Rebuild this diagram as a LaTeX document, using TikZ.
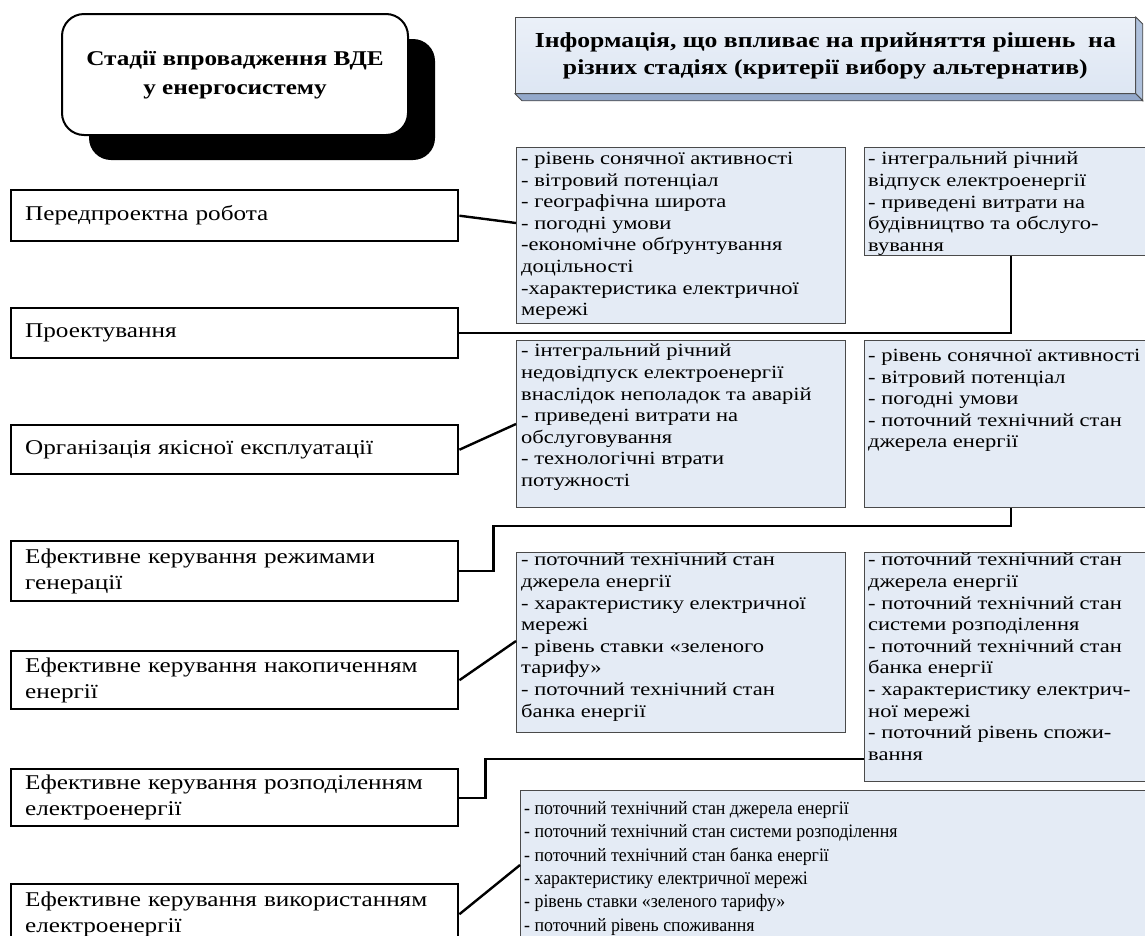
\documentclass[tikz,border=0pt]{standalone}
\usepackage{fontspec}
\setmainfont{Liberation Serif}[FakeStretch=1.2]
\newfontfamily\bluefont{Liberation Serif}[FakeStretch=1.21]
\newfontfamily\condserif{Liberation Serif}[FakeStretch=0.94]
\usetikzlibrary{calc,shadows}
\definecolor{boxfill}{HTML}{E4EBF5}
\definecolor{boxline}{HTML}{4A4A4A}
\definecolor{infofront}{HTML}{DDE6F3}
\definecolor{infoside}{HTML}{AFC1DC}
\definecolor{infobottom}{HTML}{93A8CB}
\begin{document}
\begin{tikzpicture}[x=1pt,y=-1pt,
  stagebox/.style={draw=black, line width=2.4pt, fill=white, anchor=north west,
    inner xsep=14pt, inner ysep=0pt, text width=419pt, align=left,
    font=\fontsize{21}{26}\selectfont},
  bluebox/.style={draw=boxline, line width=0.8pt, fill=boxfill, anchor=north west, inner sep=0pt},
  btext/.style={anchor=north west, inner sep=0pt, align=left, font=\bluefont\fontsize{18.6}{21.6}\selectfont},
  gtext/.style={anchor=north west, inner sep=0pt, align=left, font=\condserif\fontsize{19}{23.4}\selectfont},
  conn/.style={draw=black, line width=2.4pt, line join=miter},
  titlebox/.style={draw=black, line width=2pt, fill=white, rounded corners=22pt,
    minimum width=346pt, minimum height=121pt, align=center,
    font=\bfseries\fontsize{21}{29}\selectfont,
    drop shadow={shadow xshift=27pt, shadow yshift=-25pt, fill=black, opacity=1}},
  infobox/.style={draw=boxline, line width=0.8pt, top color=infofront!60!white, bottom color=infofront,
    anchor=north west, minimum width=620pt, minimum height=76pt, align=center,
    font=\bfseries\fontsize{21.4}{27}\selectfont}
]
\useasboundingbox (0,0) rectangle (1145,935);
\clip (0,0) rectangle (1145,935);

% headers
\node[titlebox] (stages) at (235,74.5) {Стадії впровадження ВДЕ\\у енергосистему};

\node[infobox] (info) at (515,17) {Інформація, що впливає на прийняття рішень~ на\\різних стадіях (критерії вибору альтернатив)};
\filldraw[fill=infoside, draw=boxline, line width=0.8pt] (info.north east) -- ++(7,7) -- ($(info.south east)+(7,7)$) -- (info.south east) -- cycle;
\filldraw[fill=infobottom, draw=boxline, line width=0.8pt] (info.south west) -- ($(info.south west)+(7,7)$) -- ($(info.south east)+(7,7)$) -- (info.south east) -- cycle;

% stage boxes
\node[stagebox, minimum height=51pt] (s1) at (10,189) {Передпроектна робота};
\node[stagebox, minimum height=50pt] (s2) at (10,307) {Проектування};
\node[stagebox, minimum height=49pt] (s3) at (10,424) {Організація якісної експлуатації};
\node[stagebox, minimum height=60pt] (s4) at (10,540) {Ефективне керування режимами\\генерації};
\node[stagebox, minimum height=58pt] (s5) at (10,650) {Ефективне керування накопиченням\\енергії};
\node[stagebox, minimum height=57pt] (s6) at (10,768) {Ефективне керування розподіленням\\електроенергії};
\node[stagebox, minimum height=60pt] (s7) at (10,883) {Ефективне керування використанням\\електроенергії};

% information boxes
\node[bluebox, minimum width=329pt, minimum height=176pt] (A) at (516,147) {};
\node[btext] (At) at ($(A.north west)+(5,5)$) {- рівень сонячної активності\\- вітровий потенціал\\- географічна широта\\- погодні умови\\-економічне обґрунтування\\доцільності\\-характеристика електричної\\мережі};

\node[bluebox, minimum width=282pt, minimum height=108pt] (B) at (864,147) {};
\node[btext] (Bt) at ($(B.north west)+(4,5)$) {- інтегральний річний\\відпуск електроенергії\\- приведені витрати на\\будівництво та обслуго-\\вування};

\node[bluebox, minimum width=329pt, minimum height=167pt] (C) at (516,340) {};
\node[btext] (Ct) at ($(C.north west)+(5,4)$) {- інтегральний річний\\недовідпуск електроенергії\\внаслідок неполадок та аварій\\- приведені витрати на\\обслуговування\\- технологічні втрати\\потужності};

\node[bluebox, minimum width=282pt, minimum height=167pt] (D) at (864,340) {};
\node[btext] (Dt) at ($(D.north west)+(4,9)$) {- рівень сонячної активності\\- вітровий потенціал\\- погодні умови\\- поточний технічний стан\\джерела енергії};

\node[bluebox, minimum width=329pt, minimum height=180pt] (E) at (516,552) {};
\node[btext] (Et) at ($(E.north west)+(5,1)$) {- поточний технічний стан\\джерела енергії\\- характеристику електричної\\мережі\\- рівень ставки «зеленого\\тарифу»\\- поточний технічний стан\\банка енергії};

\node[bluebox, minimum width=282pt, minimum height=229pt] (F) at (864,552) {};
\node[btext] (Ft) at ($(F.north west)+(4,1)$) {- поточний технічний стан\\джерела енергії\\- поточний технічний стан\\системи розподілення\\- поточний технічний стан\\банка енергії\\- характеристику електрич-\\ної мережі\\- поточний рівень спожи-\\вання};

\node[bluebox, minimum width=626pt, minimum height=170pt] (G) at (520,790) {};
\node[gtext] (Gt) at ($(G.north west)+(4,11)$) {- поточний технічний стан джерела енергії\\- поточний технічний стан системи розподілення\\- поточний технічний стан банка енергії\\- характеристику електричної мережі\\- рівень ставки «зеленого тарифу»\\- поточний рівень споживання};

% connectors
\draw[conn] (s1.east) -- ($(A.north west)+(0,76)$);
\draw[conn] (s2.east) -| ($(B.south west)+(147,0)$);
\draw[conn] (s3.east) -- ($(C.north west)+(0,84)$);
\draw[conn] (s4.east) -- ++(34,0) |- ($(D.south west)+(147,18)$) -- ($(D.south west)+(147,0)$);
\draw[conn] (s5.east) -- ($(E.north west)+(0,89)$);
\draw[conn] (s6.east) -- ++(26,0) |- ($(F.north west)+(0,207)$);
\draw[conn] (s7.east) -- ($(G.north west)+(0,75)$);
\end{tikzpicture}
\end{document}
